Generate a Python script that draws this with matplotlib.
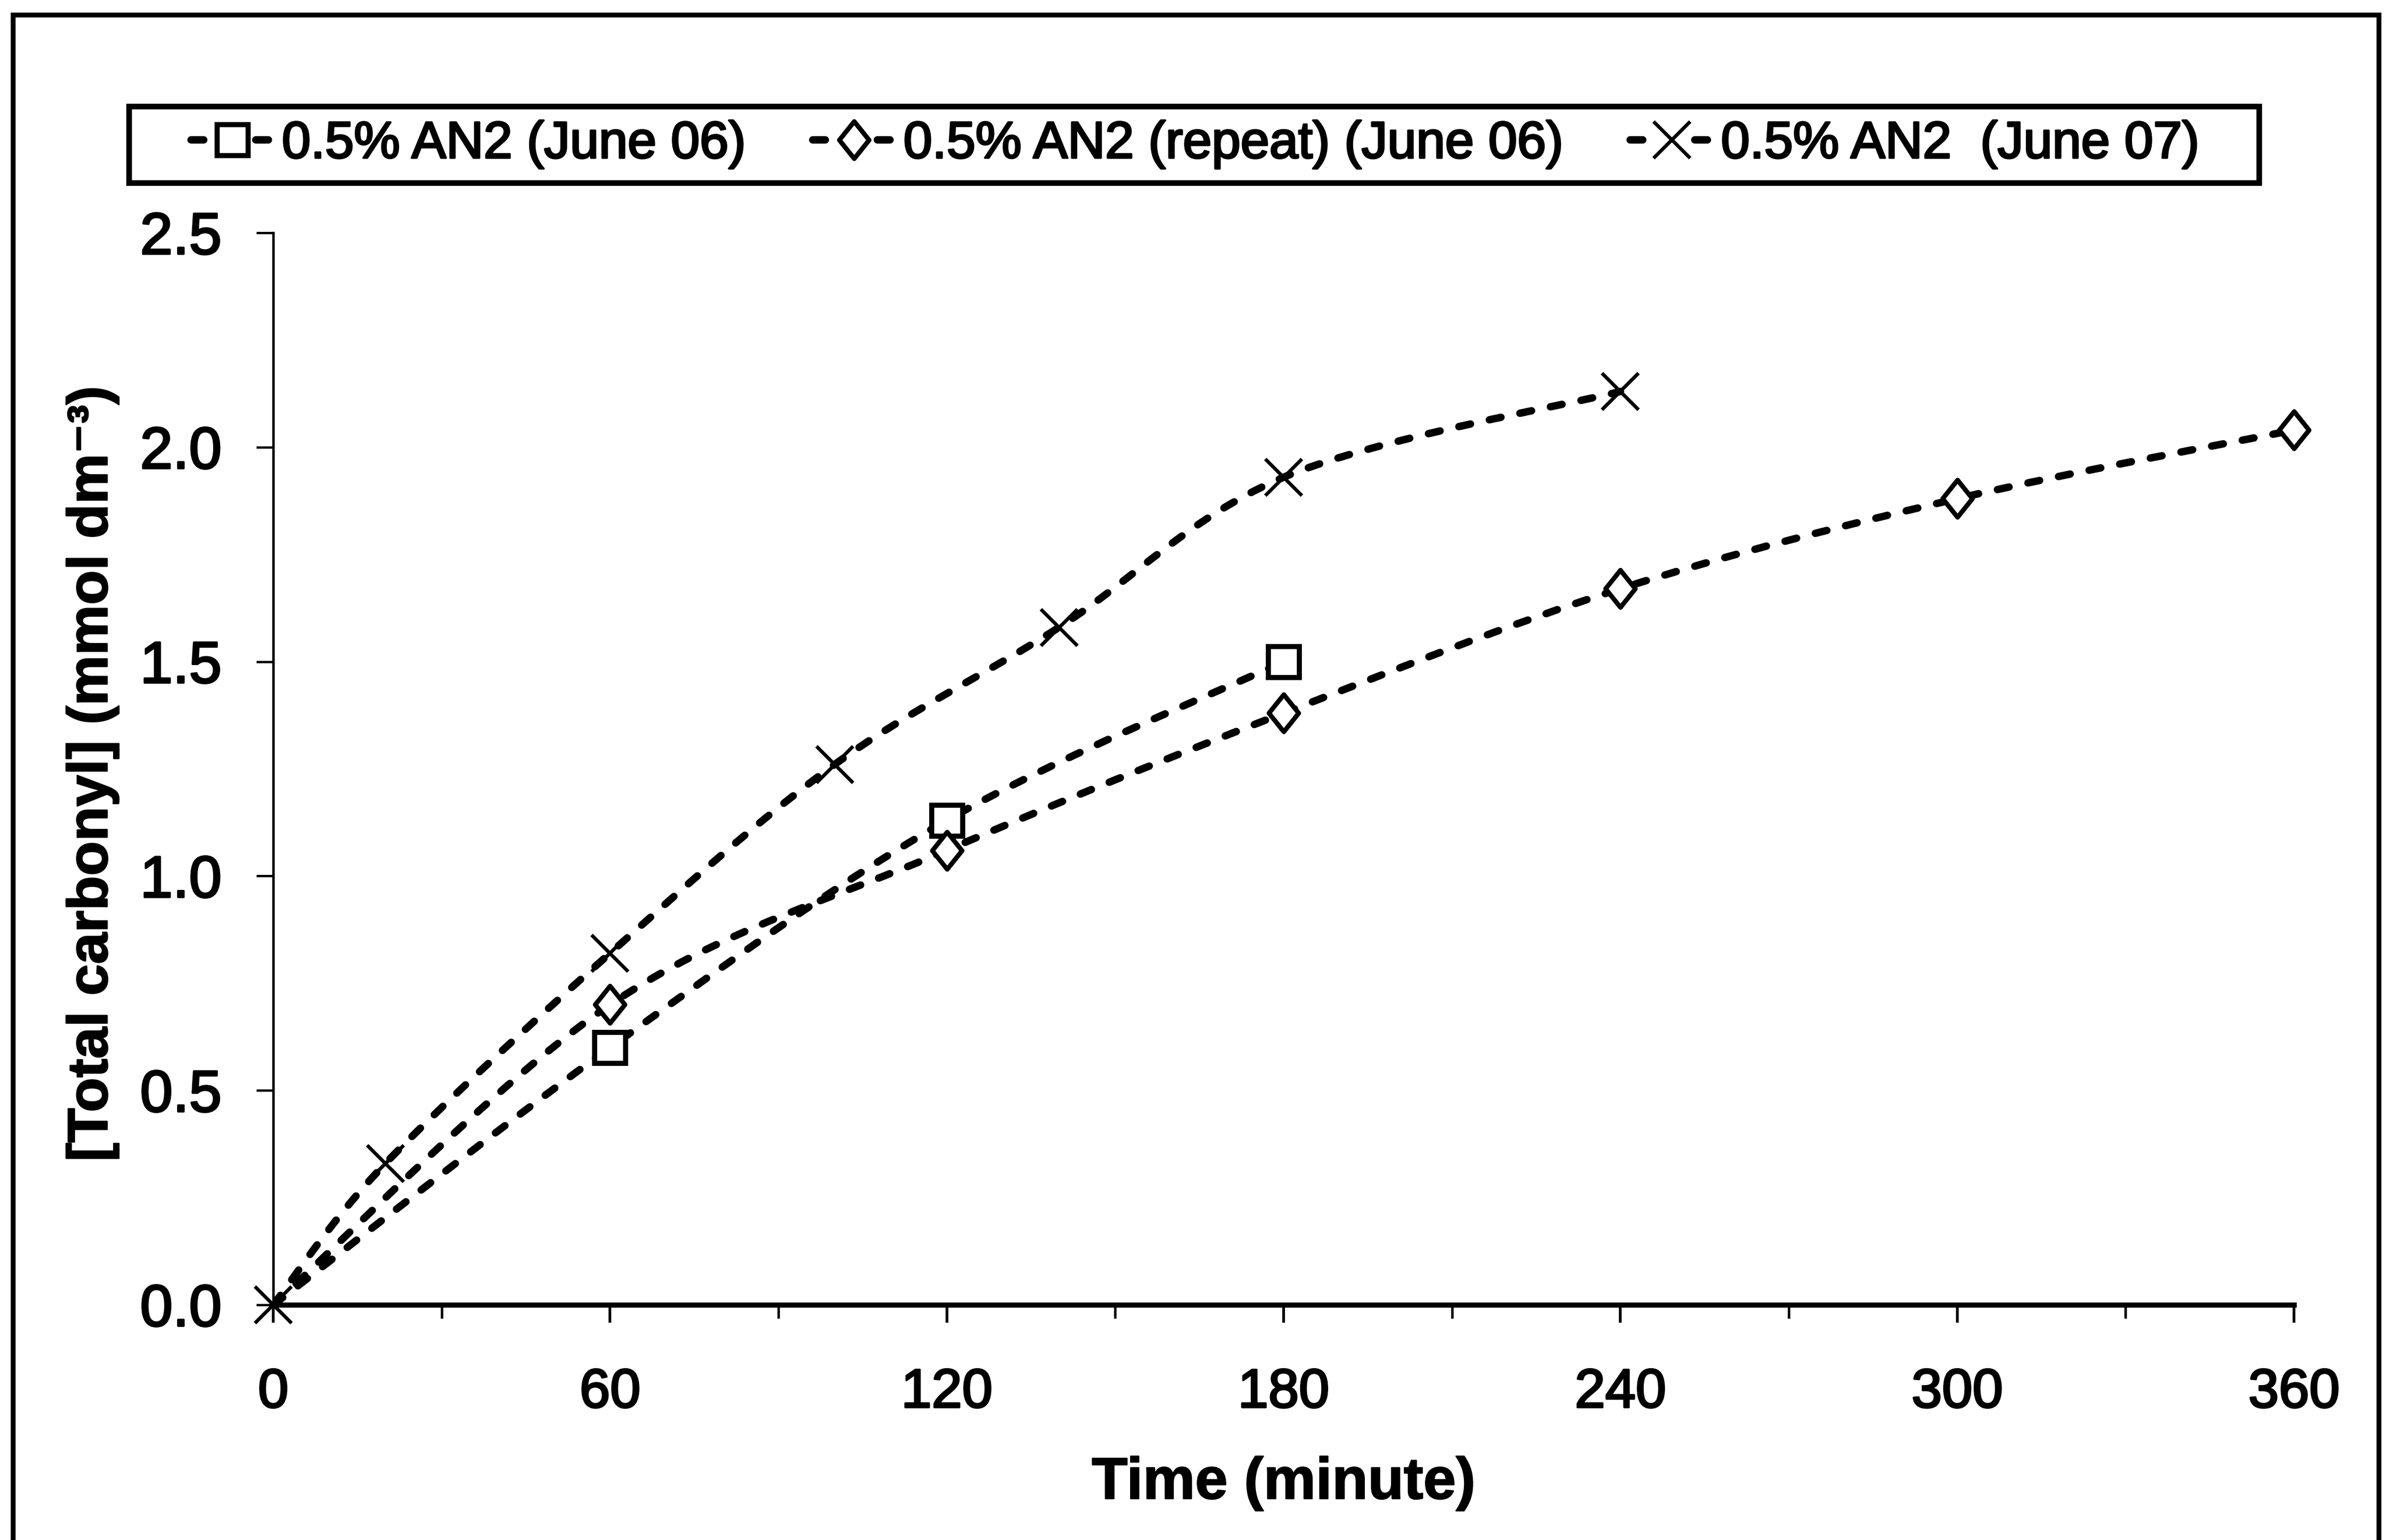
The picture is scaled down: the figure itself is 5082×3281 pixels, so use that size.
import matplotlib
matplotlib.use("Agg")
import matplotlib.pyplot as plt
import matplotlib.patheffects as pe
from matplotlib.path import Path
from matplotlib.patches import PathPatch, Rectangle
from matplotlib.lines import Line2D
from matplotlib.ticker import FixedLocator, FormatStrFormatter

plt.rcParams['font.family'] = ['Liberation Sans', 'DejaVu Sans']

# ---- data -------------------------------------------------------------
time_june06 = [0, 60, 120, 180]
carbonyl_june06 = [0.0, 0.60, 1.13, 1.50]

time_repeat = [0, 60, 120, 180, 240, 300, 360]
carbonyl_repeat = [0.0, 0.70, 1.06, 1.38, 1.67, 1.88, 2.04]

time_june07 = [0, 20, 60, 100, 140, 180, 240]
carbonyl_june07 = [0.0, 0.33, 0.82, 1.26, 1.58, 1.93, 2.13]

series_labels = ["0.5% AN2 (June 06)",
                 "0.5% AN2 (repeat) (June 06)",
                 "0.5% AN2  (June 07)"]

x_ticks = [0, 60, 120, 180, 240, 300, 360]
x_minor_ticks = [30, 90, 150, 210, 270, 330]
y_ticks = [0.0, 0.5, 1.0, 1.5, 2.0, 2.5]


def smooth_path(xs, ys):
    """Cubic Bezier path through the points (Catmull-Rom style smoothing)."""
    pts = list(zip(xs, ys))
    n = len(pts)
    verts = [pts[0]]
    codes = [Path.MOVETO]
    for i in range(n - 1):
        p0 = pts[i - 1] if i > 0 else pts[i]
        p1 = pts[i]
        p2 = pts[i + 1]
        p3 = pts[i + 2] if i + 2 < n else pts[i + 1]
        c1 = (p1[0] + (p2[0] - p0[0]) / 6.0, p1[1] + (p2[1] - p0[1]) / 6.0)
        c2 = (p2[0] - (p3[0] - p1[0]) / 6.0, p2[1] - (p3[1] - p1[1]) / 6.0)
        verts += [c1, c2, p2]
        codes += [Path.CURVE4] * 3
    return Path(verts, codes)


diamond = Path([(0, 1), (0.8, 0), (0, -1), (-0.8, 0), (0, 1)],
               [Path.MOVETO, Path.LINETO, Path.LINETO, Path.LINETO, Path.CLOSEPOLY])

# slightly heavier glyphs for all text
heavy = [pe.withStroke(linewidth=1.0, foreground='black')]

W, H, DPI = 5083, 3281, 300
fig = plt.figure(figsize=(W / DPI, H / DPI), dpi=DPI)
fig.patch.set_facecolor('white')

ax = fig.add_axes([582 / W, 1 - 2780 / H, (4886 - 582) / W, (2780 - 496) / H])
ax.set_xlim(0, 360)
ax.set_ylim(0, 2.5)

LW = 3.8
line_kw = dict(fill=False, edgecolor='black', linewidth=LW,
               linestyle=(0, (1.6, 2.6)), capstyle='round', zorder=2)

series = [
    (time_june06, carbonyl_june06, 's', 16, 2.6, slice(1, None)),
    (time_repeat, carbonyl_repeat, diamond, 19, 2.4, slice(1, None)),
    (time_june07, carbonyl_june07, 'x', 18.5, 1.8, None),
]

handles = []
for xs, ys, mk, ms, mew, every in series:
    ax.add_patch(PathPatch(smooth_path(xs, ys), transform=ax.transData, **line_kw))
    ax.plot(xs, ys, linestyle='none', marker=mk, markersize=ms,
            markerfacecolor='white' if mk != 'x' else 'black',
            markeredgecolor='black', markeredgewidth=mew,
            markevery=every, clip_on=False, zorder=3)
    handles.append(Line2D([], [], color='black', linewidth=LW,
                          dashes=(1.7, 7.0), dash_capstyle='round',
                          marker=mk, markersize=ms,
                          markerfacecolor='white' if mk != 'x' else 'black',
                          markeredgecolor='black', markeredgewidth=mew))

# ---- axes styling ------------------------------------------------------
for side in ('top', 'right'):
    ax.spines[side].set_visible(False)
ax.spines['bottom'].set_linewidth(2.6)
ax.spines['left'].set_linewidth(1.3)
ax.spines['left'].set_linestyle((0, (2, 1)))

ax.xaxis.set_major_locator(FixedLocator(x_ticks))
ax.xaxis.set_minor_locator(FixedLocator(x_minor_ticks))
ax.yaxis.set_major_locator(FixedLocator(y_ticks))
ax.yaxis.set_major_formatter(FormatStrFormatter('%.1f'))
ax.xaxis.set_major_formatter(FormatStrFormatter('%d'))

ax.tick_params(axis='x', which='major', direction='out', length=9, width=1.4,
               pad=23, labelsize=28)
ax.tick_params(axis='x', which='minor', direction='out', length=7, width=1.3)
ax.tick_params(axis='y', which='major', direction='out', length=8.6, width=1.2,
               pad=17.8, labelsize=30)
for lbl in ax.get_xticklabels() + ax.get_yticklabels():
    lbl.set_path_effects(heavy)

ax.set_xlabel('Time (minute)', fontsize=30, fontweight='bold')
ax.xaxis.label.set_va('center')
ax.xaxis.set_label_coords(0.5, -0.1668)
ax.set_ylabel('[Total carbonyl] (mmol dm\u207b\u00b3)', fontsize=29, fontweight='bold')
ax.yaxis.label.set_va('center')
ax.yaxis.set_label_coords(-0.0895, 0.4956)
ax.xaxis.label.set_path_effects([pe.withStroke(linewidth=0.6, foreground='black')])
ax.yaxis.label.set_path_effects([pe.withStroke(linewidth=0.6, foreground='black')])

# ---- legend -------------------------------------------------------------
leg = fig.legend(handles, series_labels, loc='center', bbox_to_anchor=(0.5007, 0.906),
                 ncol=3, frameon=False, fontsize=26.5, handlelength=1.6,
                 handletextpad=0.15, columnspacing=1.3, borderpad=0.1)
for t in leg.get_texts():
    t.set_path_effects(heavy)
fig.add_artist(Rectangle((275 / W, 1 - 390 / H), (4812 - 275) / W, 163 / H,
                         transform=fig.transFigure, fill=False,
                         edgecolor='black', linewidth=2.9))

# ---- outer frame (open at the bottom edge) ------------------------------
fl, fr, ft = 28 / W, 5067 / W, 1 - 32 / H
fig.add_artist(Line2D([fl, fl, fr, fr], [-0.01, ft, ft, -0.01],
                      transform=fig.transFigure, color='black', linewidth=2.5,
                      solid_joinstyle='miter'))

fig.savefig('out.png', dpi=DPI, facecolor='white')
